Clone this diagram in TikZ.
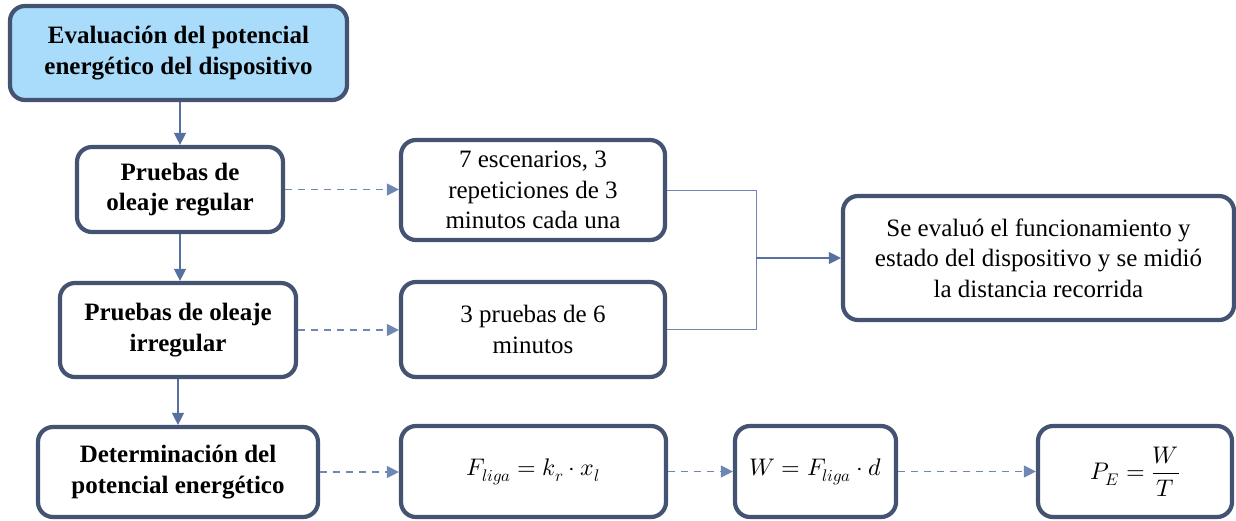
\documentclass[tikz,border=0pt]{standalone}
\usepackage{fontspec}
\setmainfont{Liberation Serif}
\usepackage{unicode-math}
\usetikzlibrary{arrows.meta}
\definecolor{boxline}{HTML}{435371}
\definecolor{conn}{HTML}{5770A0}
\definecolor{connlight}{HTML}{6F87B3}
\definecolor{topfill}{HTML}{A9DCFA}
\tikzset{
  box/.style={draw=boxline, line width=4.2pt, rounded corners=15pt, fill=white,
    align=center, inner sep=2pt, font=\fontsize{25}{30.5}\selectfont},
  boldbox/.style={box, font=\fontsize{25}{30.5}\selectfont\bfseries},
  mathbox/.style={box, font=\fontsize{24}{30}\selectfont},
  solidarrow/.style={draw=conn, line width=1.3pt, -{Triangle[length=12pt,width=12pt]}},
  dasharrow/.style={draw=connlight, line width=1.1pt, dash pattern=on 7pt off 6pt, -{Triangle[length=12pt,width=12pt]}},
  plainline/.style={draw=connlight, line width=1pt}
}
\begin{document}
\begin{tikzpicture}[x=1pt,y=-1pt]
\useasboundingbox (0,0) rectangle (1236,520);
\node[boldbox, fill=topfill, minimum width=337pt, minimum height=94pt] (top) at (178.5,53) {Evaluación del potencial\\energético del dispositivo};
\node[boldbox, minimum width=206pt, minimum height=85pt] (reg) at (180,189.5) {Pruebas de\\oleaje regular};
\node[boldbox, minimum width=236pt, minimum height=94pt] (irr) at (178,330) {Pruebas de oleaje\\irregular};
\node[boldbox, minimum width=280pt, minimum height=90pt] (det) at (178,472) {Determinación del\\potencial energético};
\node[box, minimum width=264pt, minimum height=100pt] (esc) at (533,190) {7 escenarios, 3\\repeticiones de 3\\minutos cada una};
\node[box, minimum width=264pt, minimum height=95pt] (tres) at (533,329.5) {3 pruebas de 6\\minutos};
\node[box, minimum width=391pt, minimum height=124pt] (eval) at (1038.5,258) {Se evaluó el funcionamiento y\\estado del dispositivo y se midió\\la distancia recorrida};
\node[mathbox, minimum width=265pt, minimum height=91pt] (fl) at (533.5,471.5) {$F_{liga}=k_r\cdot x_l$};
\node[mathbox, minimum width=161pt, minimum height=91pt] (w) at (815.5,471.5) {$W=F_{liga}\cdot d$};
\node[mathbox, minimum width=194pt, minimum height=91pt] (pe) at (1135,471.5) {$P_E=\dfrac{W}{T}$};
\coordinate (jt) at (756,0);
\draw[solidarrow] (top.south -| reg.north) -- (reg.north);
\draw[solidarrow] (reg.south) -- (reg.south |- irr.north);
\draw[solidarrow] (irr.south) -- (irr.south |- det.north);
\draw[dasharrow] (reg.east) -- (reg.east -| esc.west);
\draw[dasharrow] (irr.east) -- (irr.east -| tres.west);
\draw[dasharrow] (det.east) -- (det.east -| fl.west);
\draw[dasharrow] (fl.east) -- (w.west);
\draw[dasharrow] (w.east) -- (pe.west);
\draw[plainline] (esc.east) -- (esc.east -| jt) -- (tres.east -| jt) -- (tres.east);
\draw[solidarrow] (eval.west -| jt) -- (eval.west);
\end{tikzpicture}
\end{document}
